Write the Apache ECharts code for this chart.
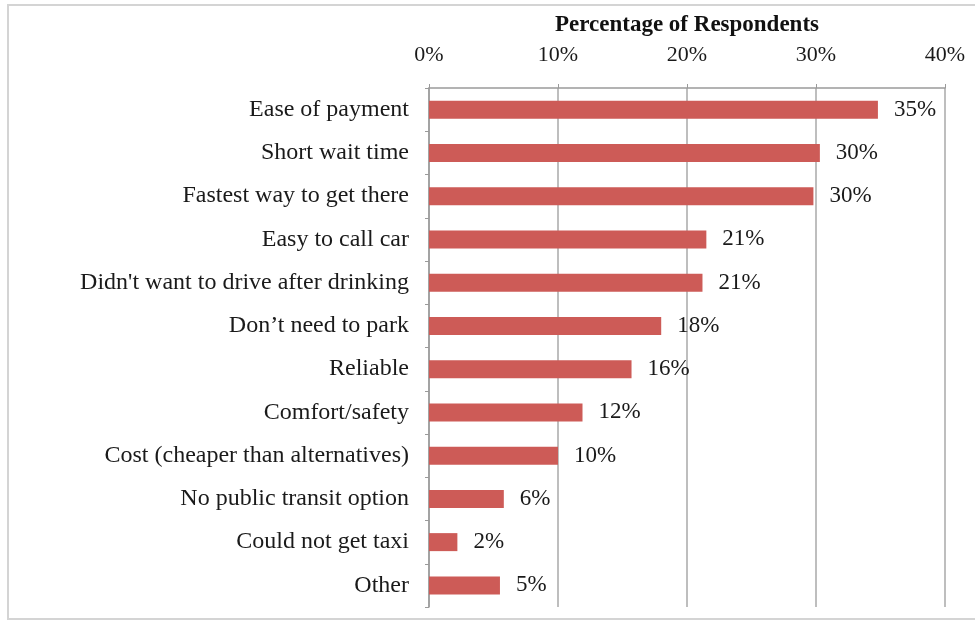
<!DOCTYPE html>
<html>
<head>
<meta charset="utf-8">
<script src="https://cdn.jsdelivr.net/npm/echarts@6/dist/echarts.min.js"></script>
<style>
  html, body { margin: 0; padding: 0; background: #fff; }
  #chart { width: 975px; height: 623px; }
</style>
</head>
<body>
<div id="chart"></div>
<script>
    // reasons, top to bottom
    var reasons = ['Ease of payment', 'Short wait time', 'Fastest way to get there', 'Easy to call car',
        'Didn\'t want to drive after drinking', 'Don\u2019t need to park', 'Reliable', 'Comfort/safety',
        'Cost (cheaper than alternatives)', 'No public transit option', 'Could not get taxi', 'Other'];
    // bar lengths (%)
    var shares = [34.8, 30.3, 29.8, 21.5, 21.2, 18.0, 15.7, 11.9, 10.0, 5.8, 2.2, 5.5];
    // printed labels
    var shareLabels = ['35%', '30%', '30%', '21%', '21%', '18%', '16%', '12%', '10%', '6%', '2%', '5%'];
    var xTicks = [0, 10, 20, 30, 40];

    var serif = '"Liberation Serif", "DejaVu Serif", serif';
    var myChart = echarts.init(document.getElementById('chart'));

    var option = {
        animation: false,
        backgroundColor: '#fff',
        graphic: [
            {
                type: 'rect',
                shape: { x: 8, y: 5, width: 990, height: 614 },
                style: { fill: 'none', stroke: '#d4d4d4', lineWidth: 2 },
                silent: true
            },
            {
                type: 'text',
                silent: true,
                style: {
                    x: 687,
                    y: 25,
                    text: 'Percentage of Respondents',
                    font: 'bold 23px ' + serif,
                    fill: '#111',
                    align: 'center',
                    verticalAlign: 'middle'
                }
            }
        ],
        grid: {
            left: 429,
            right: 30,
            top: 88,
            bottom: 16,
            containLabel: false
        },
        xAxis: {
            type: 'value',
            position: 'top',
            min: xTicks[0],
            max: xTicks[xTicks.length - 1],
            interval: 10,
            axisLine: { show: true, lineStyle: { color: '#9a9a9a', width: 1.5 } },
            axisTick: { show: true, length: 4, lineStyle: { color: '#9a9a9a' } },
            axisLabel: {
                formatter: '{value}%',
                color: '#1a1a1a',
                fontFamily: serif,
                fontSize: 22,
                margin: 22
            },
            splitLine: { show: true, lineStyle: { color: '#a8a8a8', width: 1.5 } }
        },
        yAxis: {
            type: 'category',
            inverse: true,
            data: reasons,
            axisLine: { show: true, lineStyle: { color: '#9a9a9a', width: 1.5 } },
            axisTick: { show: true, length: 4, lineStyle: { color: '#9a9a9a' } },
            axisLabel: {
                color: '#1a1a1a',
                fontFamily: serif,
                fontSize: 24,
                margin: 20
            }
        },
        series: [
            {
                type: 'bar',
                data: shares,
                barWidth: 18,
                itemStyle: { color: '#cd5b57' },
                label: {
                    show: true,
                    position: 'right',
                    distance: 16,
                    color: '#1a1a1a',
                    fontFamily: serif,
                    fontSize: 23,
                    formatter: function (p) { return shareLabels[p.dataIndex]; }
                }
            }
        ]
    };

    myChart.setOption(option);
</script>
</body>
</html>
